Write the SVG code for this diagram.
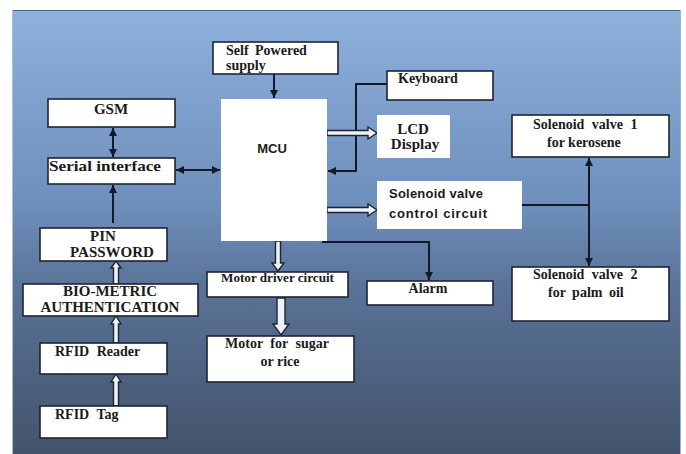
<svg xmlns="http://www.w3.org/2000/svg" width="686" height="454" viewBox="0 0 686 454">
<defs>
<linearGradient id="bg" x1="0" y1="0" x2="0" y2="1">
<stop offset="0" stop-color="#8fb1de"/>
<stop offset="0.45" stop-color="#6d8dba"/>
<stop offset="0.62" stop-color="#5a7398"/>
<stop offset="1" stop-color="#43536b"/>
</linearGradient>
<marker id="ah" viewBox="0 0 10 10" refX="10" refY="5" markerWidth="8" markerHeight="8" markerUnits="userSpaceOnUse" orient="auto-start-reverse">
<path d="M0,0 L10,5 L0,10 Z" fill="#111a28"/>
</marker>
<style>
.box{fill:#ffffff;stroke:#1c2533;stroke-width:1.6}
.plain{fill:#ffffff}
.t{font-family:"Liberation Serif","Times New Roman",serif;font-weight:bold;fill:#1a1a1a;font-size:14px}
.b{font-size:15px}
.sm{font-size:11.5px}
.s{font-family:"Liberation Sans",Arial,sans-serif;font-weight:bold;fill:#1a1a1a;font-size:13px}
.ln{fill:none;stroke:#111a28;stroke-width:2}
.hol{fill:#eef1f6;stroke:#1c2533;stroke-width:1.4}
</style>
</defs>
<rect x="0" y="0" width="686" height="454" fill="#ffffff"/>
<rect x="12" y="10" width="669" height="444" fill="url(#bg)"/>
<line x1="12" y1="10.5" x2="681" y2="10.5" stroke="#3f6f78" stroke-width="1"/>
<line x1="12.5" y1="10" x2="12.5" y2="454" stroke="#a9c3d4" stroke-width="1"/>
<line x1="680.5" y1="10" x2="680.5" y2="454" stroke="#a9b4c2" stroke-width="1"/>

<g id="connectors">
<line class="ln" x1="274" y1="68" x2="274" y2="98" marker-end="url(#ah)"/>
<line class="ln" x1="113" y1="128" x2="113" y2="157" marker-start="url(#ah)" marker-end="url(#ah)"/>
<line class="ln" x1="176" y1="170" x2="220" y2="170" marker-start="url(#ah)" marker-end="url(#ah)"/>
<line class="ln" x1="113" y1="223" x2="113" y2="185" marker-end="url(#ah)"/>
<polyline class="ln" points="387,84 356,84 356,171 328,171" marker-end="url(#ah)"/>
<polyline class="ln" points="322,242 429,242 429,280" marker-end="url(#ah)"/>
<line class="ln" x1="522" y1="205" x2="589" y2="205"/>
<line class="ln" x1="589" y1="158" x2="589" y2="266" marker-start="url(#ah)" marker-end="url(#ah)"/>
<path class="hol" d="M327,130.5 H368 V127 L377,133 L368,139 V135.5 H327 Z"/>
<path class="hol" d="M327,207.5 H368 V204 L377,210 L368,216 V212.5 H327 Z"/>
<path class="hol" d="M275.5,241 V263 H272 L278,271 L284,263 H280.5 V241 Z"/>
<path class="hol" d="M277,298 V324 H273 L281,335 L289,324 H285 V298 Z"/>
<path class="hol" d="M113.5,284 V268 H111 L116,261 L121,268 H118.5 V284 Z"/>
<path class="hol" d="M113.5,343 V324 H111 L116,316 L121,324 H118.5 V343 Z"/>
<path class="hol" d="M113.5,406 V382 H111 L116,374 L121,382 H118.5 V406 Z"/>
</g>

<g id="self-powered">
<rect class="box" x="213" y="42" width="125" height="32"/>
<text class="t" x="226" y="55" word-spacing="3">Self Powered</text>
<text class="t" x="226" y="70">supply</text>
</g>
<g id="mcu">
<rect class="plain" x="221" y="99" width="106" height="142"/>
<text class="s" x="272" y="153" text-anchor="middle">MCU</text>
</g>
<g id="keyboard">
<rect class="box" x="387" y="71" width="106" height="29"/>
<text class="t" x="398" y="83">Keyboard</text>
</g>
<g id="gsm">
<rect class="box" x="48" y="99" width="127" height="28"/>
<text class="t b" x="111" y="114" text-anchor="middle">GSM</text>
</g>
<g id="serial">
<rect class="box" x="48" y="158" width="127" height="26"/>
<text class="t" x="49" y="171" textLength="112" lengthAdjust="spacingAndGlyphs">Serial interface</text>
</g>
<g id="lcd">
<rect class="plain" x="377" y="115" width="73" height="43"/>
<text class="t b" x="413" y="134" text-anchor="middle">LCD</text>
<text class="t b" x="415" y="149" text-anchor="middle">Display</text>
</g>
<g id="sv-control">
<rect class="plain" x="377" y="181" width="145" height="48"/>
<text class="s" x="389" y="198" textLength="94">Solenoid valve</text>
<text class="s" x="389" y="218" textLength="98">control circuit</text>
</g>
<g id="sv1">
<rect class="box" x="512" y="115" width="157" height="42"/>
<text class="t" x="533" y="129" word-spacing="4">Solenoid valve 1</text>
<text class="t" x="547" y="147">for kerosene</text>
</g>
<g id="sv2">
<rect class="box" x="512" y="267" width="157" height="54"/>
<text class="t" x="533" y="279" word-spacing="4">Solenoid valve 2</text>
<text class="t" x="548" y="297" word-spacing="3">for palm oil</text>
</g>
<g id="pin">
<rect class="box" x="40" y="228" width="127" height="33"/>
<text class="t b" x="103" y="241" text-anchor="middle">PIN</text>
<text class="t b" x="112" y="257" text-anchor="middle">PASSWORD</text>
</g>
<g id="bio">
<rect class="box" x="23" y="284" width="175" height="32"/>
<text class="t b" x="110" y="296" text-anchor="middle">BIO-METRIC</text>
<text class="t b" x="110" y="312" text-anchor="middle">AUTHENTICATION</text>
</g>
<g id="rfid-reader">
<rect class="box" x="40" y="343" width="127" height="31"/>
<text class="t" x="55" y="356" word-spacing="4">RFID Reader</text>
</g>
<g id="rfid-tag">
<rect class="box" x="40" y="406" width="127" height="32"/>
<text class="t" x="55" y="419" word-spacing="4">RFID Tag</text>
</g>
<g id="motor-driver">
<rect class="box" x="207" y="272" width="141" height="25"/>
<text class="t sm" x="221" y="282" textLength="113" lengthAdjust="spacingAndGlyphs">Motor driver circuit</text>
</g>
<g id="alarm">
<rect class="box" x="367" y="281" width="126" height="24"/>
<text class="t" x="428" y="293" text-anchor="middle">Alarm</text>
</g>
<g id="motor">
<rect class="box" x="207" y="336" width="147" height="46"/>
<text class="t" x="225" y="348" word-spacing="4">Motor for sugar</text>
<text class="t" x="280" y="366" text-anchor="middle">or rice</text>
</g>
</svg>
